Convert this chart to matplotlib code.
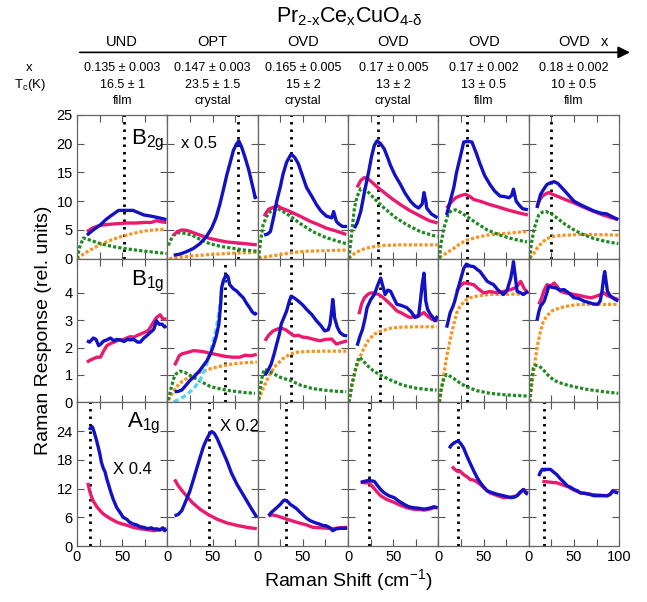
import numpy as np
import matplotlib
matplotlib.use("Agg")
import matplotlib.pyplot as plt
from matplotlib.patches import FancyArrowPatch

plt.rcParams['font.family'] = ['Liberation Sans', 'DejaVu Sans']
plt.rcParams['mathtext.fontset'] = 'custom'
plt.rcParams['mathtext.rm'] = 'Liberation Sans'
plt.rcParams['mathtext.it'] = 'Liberation Sans:italic'
plt.rcParams['mathtext.default'] = 'regular'

# header info, one entry per sample (column)
doping = ['UND', 'OPT', 'OVD', 'OVD', 'OVD', 'OVD']
x_vals = ['0.135 ± 0.003', '0.147 ± 0.003', '0.165 ± 0.005', '0.17 ± 0.005', '0.17 ± 0.002', '0.18 ± 0.002']
tc_vals = ['16.5 ± 1', '23.5 ± 1.5', '15 ± 2', '13 ± 2', '13 ± 0.5', '10 ± 0.5']
sample = ['film', 'crystal', 'crystal', 'crystal', 'film', 'film']

# dotted marker positions (cm-1) per row, None = no line
b2g_mark = [52, 78, 37, 33, 32, 25]
b1g_mark = [None, 64, 37, 35, 32, None]
a1g_mark = [14, 46, 31, 23, 22, 17]

# ---- B2g (top row) ----
b2g_blue = [
    [(11,4.1),(18,5.0),(26,5.9),(32,6.8),(37,7.4),(46,8.4),(55,8.4),(62,8.4),(68,8.0),(74,7.6),(82,7.4),(88,7.2),(99,6.8)],
    [(7,0.6),(14,0.8),(21,1.2),(29,1.8),(36,2.6),(43,3.8),(49,5.3),(54,7.2),(58,9.4),(62,12),(66,14.7),(70,17),(73,18.8),(76,19.8),(79,20.5),(82,19.5),(86,17.6),(90,15.5),(93,13.5),(96,11.5),(97,10.6),(99,10.8)],
    [(7,4.1),(11,4.3),(14,4.7),(18,7.5),(21,10),(25,12.5),(28,14.7),(32,16.8),(37,18.2),(41,17.6),(45,16.5),(50,14.2),(54,12.4),(60,10.8),(65,9.4),(70,8.3),(76,7.4),(80,7.2),(82,7.1),(84,8.2),(87,6.5),(90,6.0),(94,5.6),(99,5.6)],
    [(7,5.3),(10,6.2),(14,8.2),(18,11.5),(23,15.3),(26,17.8),(29,19.7),(32,20.5),(36,20.0),(40,19.1),(44,17.5),(47,16.2),(52,14.5),(58,12.9),(63,11.4),(69,10.0),(74,9.2),(78,8.8),(82,9.5),(84,11.5),(86,10.0),(87,8.8),(92,7.8),(99,7.1)],
    [(9,7.6),(13,10.0),(17,12.4),(20,15),(24,17.6),(28,20.3),(33,20.4),(37,20.3),(42,18.3),(46,16.5),(51,14.5),(57,12.9),(62,11.8),(68,10.9),(73,10.8),(78,10.6),(81,11.0),(83,12.1),(86,10.0),(90,9.2),(93,8.7),(99,8.5)],
    [(9,8.8),(13,11.2),(17,12.2),(20,12.9),(24,13.2),(28,13.4),(32,13.1),(35,12.6),(42,11.4),(50,10.0),(57,9.4),(65,8.8),(72,8.3),(80,7.9),(86,7.8),(91,7.4),(96,7.0),(99,6.8)],
]
b2g_pink = [
    [(11,4.7),(18,5.4),(26,5.8),(37,6.0),(46,6.1),(55,6.2),(65,6.2),(74,6.3),(82,6.3),(88,6.6),(94,6.4),(99,6.3)],
    [(7,4.1),(11,4.7),(16,5.0),(22,4.9),(29,4.5),(38,4.0),(47,3.5),(56,3.2),(66,2.9),(80,2.7),(99,2.4)],
    [(7,7.4),(12,8.6),(17,8.9),(22,9.2),(26,8.8),(33,8.4),(40,7.9),(48,7.3),(58,6.5),(66,6.0),(76,5.3),(87,4.8),(98,4.2)],
    [(10,12.4),(14,13.6),(18,14.1),(22,13.9),(25,13.5),(32,12.5),(40,11.5),(48,10.5),(58,9.4),(68,8.4),(80,7.4),(90,6.6),(99,6.2)],
    [(9,8.8),(14,9.8),(19,10.6),(25,11.0),(30,11.2),(35,10.8),(39,10.3),(46,10.0),(57,9.4),(66,9.0),(76,8.5),(88,8.0),(99,7.6)],
    [(9,9.1),(12,10.2),(15,10.9),(19,11.3),(22,11.5),(26,11.2),(31,10.9),(40,10.3),(50,9.7),(60,9.0),(72,8.2),(82,7.6),(92,7.1),(99,6.8)],
]
b2g_green = [
    [(0,0),(3,2),(7,3.6),(15,3.2),(26,2.6),(40,2.1),(55,1.7),(75,1.3),(99,0.9)],
    [(1,2.3),(6,4.0),(12,4.5),(16,4.5),(22,4.3),(27,4.1),(37,3.3),(47,2.6),(60,2.1),(73,1.8),(85,1.5),(99,1.3)],
    [(1,0),(3,3),(6,5.9),(10,7.4),(14,8.2),(21,8.8),(28,8.2),(36,7.4),(48,6.0),(61,4.7),(75,3.7),(87,3.1),(98,2.6)],
    [(1,0),(4,4.5),(7,8.8),(10,10.8),(14,12.2),(21,11.8),(30,10.3),(40,8.8),(52,7.2),(65,5.9),(80,4.7),(99,3.8)],
    [(1,0),(3,2.8),(6,5.3),(11,7.9),(15,8.4),(19,8.5),(25,8.0),(31,7.4),(42,6.2),(54,5.0),(68,4.1),(83,3.4),(98,2.9)],
    [(1,0),(3,2.8),(6,5.3),(11,7.6),(15,8.1),(19,8.2),(25,7.8),(31,7.1),(40,6.0),(50,5.0),(60,4.2),(72,3.5),(85,3.0),(99,2.6)],
]
b2g_orange = [
    [(0,0),(8,0.9),(18,1.8),(28,2.6),(37,3.2),(46,3.7),(55,4.1),(65,4.5),(74,4.8),(85,5.0),(96,5.1)],
    [(2,0),(10,0.2),(20,0.35),(29,0.5),(45,0.7),(66,0.9),(80,1.0),(99,1.1)],
    [(1,0.1),(10,0.35),(21,0.6),(30,0.85),(40,1.1),(55,1.3),(76,1.4),(98,1.5)],
    [(1,0),(7,0.9),(14,1.5),(21,1.85),(29,2.1),(40,2.3),(58,2.4),(99,2.4)],
    [(1,0.2),(9,1.0),(17,1.8),(24,2.6),(31,3.2),(42,3.7),(54,4.1),(65,4.3),(76,4.4),(88,4.6),(98,4.7)],
    [(1,0.1),(5,0.8),(9,1.8),(14,2.7),(20,3.5),(28,3.9),(36,4.05),(43,4.1),(56,4.2),(69,4.2),(85,4.15),(99,4.1)],
]

# ---- B1g (middle row) ----
b1g_blue = [
    [(11,2.25),(14,2.2),(18,2.35),(21,2.3),(24,2.07),(27,2.15),(29,2.23),(33,2.28),(37,2.35),(41,2.25),(44,2.3),(48,2.28),(52,2.22),(56,2.3),(59,2.28),(63,2.3),(67,2.2),(70,2.2),(74,2.35),(77,2.43),(81,2.55),(85,2.67),(88,2.98),(91,2.85),(94,2.86),(97,2.75),(99,2.8)],
    [(8,0.39),(12,0.4),(16,0.45),(20,0.6),(25,0.8),(30,0.95),(36,1.17),(40,1.35),(44,1.53),(48,1.8),(51,2.07),(54,2.4),(57,2.86),(59,3.6),(60,4.18),(62,4.45),(65,4.66),(67,4.6),(69,4.3),(73,4.15),(77,4.06),(80,3.95),(84,3.82),(88,3.6),(91,3.46),(94,3.3),(97,3.22),(99,3.28)],
    [(8,0.99),(12,1.2),(15,1.41),(18,1.75),(21,2.13),(24,2.5),(26,2.86),(29,3.1),(32,3.34),(35,3.7),(37,3.88),(41,3.8),(45,3.7),(50,3.55),(54,3.4),(60,3.2),(65,2.98),(70,2.8),(74,2.61),(78,2.65),(80,2.86),(82,3.4),(83,3.76),(84,3.5),(85,3.1),(88,2.75),(91,2.55),(95,2.45),(99,2.43)],
    [(10,2.07),(13,2.4),(16,2.67),(19,3.1),(21,3.46),(25,3.75),(29,3.94),(33,4.3),(36,4.54),(38,4.3),(41,3.94),(44,4.1),(47,4.06),(50,3.85),(54,3.58),(58,3.55),(62,3.5),(65,3.46),(70,3.3),(74,3.1),(78,3.15),(80,3.7),(82,4.3),(84,4.72),(86,3.7),(88,3.4),(91,3.22),(94,3.1),(96,2.98),(99,3.16)],
    [(9,2.73),(11,3.0),(13,3.28),(16,3.5),(18,3.7),(22,4.2),(26,4.66),(28,4.9),(31,5.05),(35,4.98),(39,4.96),(43,4.85),(46,4.78),(50,4.6),(54,4.42),(58,4.35),(61,4.3),(66,4.1),(72,3.94),(76,4.1),(80,4.54),(82,4.9),(83,5.14),(85,4.6),(87,4.06),(91,4.0),(94,3.94),(99,4.06)],
    [(9,2.98),(11,3.3),(13,3.52),(15,3.6),(17,3.7),(20,4.0),(22,4.24),(26,4.2),(30,4.18),(34,4.1),(39,4.12),(44,4.0),(50,3.82),(55,3.8),(61,3.7),(66,3.65),(71,3.6),(76,3.58),(79,3.7),(81,4.06),(83,4.6),(84,4.78),(86,4.3),(87,4.06),(90,3.9),(93,3.82),(96,3.75),(99,3.7)],
]
b1g_pink = [
    [(11,1.47),(15,1.55),(18,1.59),(22,1.65),(26,1.65),(29,1.85),(33,2.07),(37,2.15),(41,2.2),(44,2.25),(48,2.28),(52,2.3),(55,2.35),(59,2.4),(63,2.38),(67,2.45),(70,2.49),(74,2.55),(78,2.6),(81,2.73),(85,2.95),(88,3.1),(92,3.2),(95,3.05),(99,3.04)],
    [(8,1.35),(11,1.55),(13,1.7),(16,1.77),(22,1.82),(29,1.89),(35,1.87),(40,1.85),(46,1.8),(51,1.77),(58,1.72),(66,1.67),(73,1.65),(80,1.65),(86,1.72),(92,1.7),(99,1.75)],
    [(8,2.25),(12,2.45),(17,2.61),(22,2.68),(26,2.71),(31,2.65),(35,2.55),(40,2.43),(45,2.45),(50,2.38),(54,2.37),(60,2.32),(65,2.28),(69,2.25),(75,2.3),(82,2.31),(87,2.13),(92,2.18),(99,2.25)],
    [(12,3.22),(15,3.6),(18,3.82),(22,3.95),(25,4.0),(30,3.98),(34,3.94),(38,3.85),(43,3.7),(48,3.55),(54,3.34),(60,3.25),(65,3.15),(69,3.1),(75,3.15),(80,3.2),(84,3.28),(88,3.15),(92,3.05),(96,3.0),(99,2.98)],
    [(20,4.06),(24,4.25),(28,4.36),(32,4.35),(36,4.32),(39,4.3),(44,4.15),(50,4.0),(57,4.05),(65,4.0),(72,4.05),(80,4.12),(86,4.2),(91,4.42),(95,4.15),(99,4.0)],
    [(11,3.58),(14,3.8),(17,4.1),(20,4.3),(24,4.25),(28,4.36),(31,4.25),(35,4.06),(40,4.0),(45,3.98),(50,3.94),(57,3.9),(63,3.85),(69,3.82),(75,3.88),(80,3.95),(83,4.0),(87,3.9),(91,3.85),(95,3.8),(99,3.76)],
]
b1g_green = [
    None,
    [(1,0.08),(4,0.5),(7,0.87),(10,1.05),(14,1.14),(19,1.1),(25,0.99),(36,0.78),(48,0.57),(60,0.48),(70,0.42),(85,0.36),(97,0.33)],
    [(1,0.1),(4,0.8),(7,1.2),(10,1.18),(17,1.05),(26,0.9),(36,0.8),(48,0.62),(61,0.5),(75,0.44),(88,0.4),(98,0.39)],
    [(1,0),(4,0.6),(7,1.05),(10,1.45),(12,1.65),(16,1.55),(21,1.35),(28,1.15),(36,0.99),(48,0.8),(60,0.63),(75,0.52),(90,0.46),(98,0.45)],
    [(1,0),(3,0.5),(6,0.87),(9,1.02),(13,0.95),(17,0.87),(24,0.7),(31,0.57),(42,0.43),(57,0.33),(75,0.27),(98,0.23)],
    [(1,0),(3,0.8),(5,1.25),(7,1.35),(11,1.33),(15,1.23),(21,1.0),(28,0.8),(38,0.67),(50,0.57),(65,0.47),(80,0.4),(99,0.33)],
]
b1g_orange = [
    None,
    [(1,0.08),(5,0.3),(10,0.57),(17,0.78),(24,0.92),(29,0.99),(38,1.12),(48,1.23),(60,1.33),(73,1.41),(86,1.45),(99,1.47)],
    [(1,0.08),(6,0.5),(10,0.8),(14,1.05),(20,1.35),(28,1.6),(35,1.75),(43,1.83),(55,1.86),(76,1.87),(98,1.87)],
    [(1,0),(4,0.6),(8,1.17),(13,1.65),(18,2.01),(23,2.3),(29,2.49),(36,2.6),(47,2.71),(60,2.75),(75,2.76),(98,2.76)],
    [(1,0.02),(5,0.8),(9,1.65),(13,2.3),(17,2.86),(20,3.25),(24,3.52),(30,3.72),(35,3.82),(45,3.9),(57,3.94),(75,3.95),(98,3.96)],
    [(1,0),(4,0.8),(7,1.53),(10,2.15),(13,2.61),(16,2.95),(20,3.16),(26,3.35),(35,3.46),(45,3.53),(57,3.58),(75,3.58),(99,3.58)],
]
# extra fit in the OPT B1g panel
b1g_cyan_opt = [(7,0.02),(14,0.12),(21,0.27),(29,0.5),(36,0.8),(42,1.25),(48,1.89),(52,2.4),(55,2.86),(58,3.5),(60,4.06),(62,4.4),(64,4.6)]

# ---- A1g (bottom row) ----
a1g_blue = [
    [(13,24.7),(15,24.5),(17,24.9),(19,23.8),(22,21.8),(25,19.5),(27,17.5),(29,16.3),(31,15.5),(33,14),(37,11.5),(40,9.8),(44,8.0),(47,7.2),(51,6.0),(55,5.6),(58,5.0),(62,4.6),(66,4.4),(70,4.0),(74,3.9),(78,3.6),(82,3.8),(86,3.5),(88,3.6),(92,3.4),(95,3.8),(97,3.2),(99,3.6)],
    [(8,6.3),(12,6.6),(16,7.4),(20,9.2),(25,11.5),(30,14.6),(36,18.4),(40,20.8),(44,22.5),(47,23.5),(49,23.9),(52,23.5),(55,22.5),(60,20.3),(66,17.7),(71,15.2),(77,12.9),(82,11.3),(88,9.4),(93,7.8),(99,6.0)],
    [(12,6.3),(15,7.0),(18,7.5),(21,8.0),(25,8.7),(28,9.4),(30,9.6),(33,9.3),(36,8.7),(40,8.2),(43,7.8),(45,7.4),(50,6.5),(54,5.8),(58,5.3),(63,4.9),(68,4.6),(72,4.3),(76,4.2),(80,3.8),(83,3.2),(87,3.6),(92,3.7),(99,3.7)],
    [(14,13.3),(18,13.5),(23,13.7),(26,13.6),(29,13.5),(33,12.5),(36,11.8),(40,11.1),(45,10.5),(51,10.1),(56,9.4),(62,8.7),(67,8.2),(72,8.0),(78,7.9),(84,7.7),(90,7.9),(95,8.2),(99,8.0)],
    [(12,20.4),(14,21.0),(17,21.5),(20,21.8),(22,21.9),(25,21.3),(28,20.4),(31,19),(35,17.3),(39,15.7),(43,14.2),(48,12.8),(54,11.5),(60,11.1),(65,10.8),(72,10.5),(80,10.1),(84,10.2),(87,10.5),(90,11.2),(94,11.8),(97,11.0),(99,10.8)],
    [(11,14.6),(13,15.5),(15,16.0),(20,16.0),(24,16.0),(27,15.5),(31,14.9),(35,14.0),(39,13.3),(43,12.5),(46,12.3),(50,11.8),(54,11.5),(57,11.1),(62,11.0),(67,10.8),(72,10.5),(80,10.5),(87,10.5),(90,10.8),(93,11.5),(96,11.2),(99,11.1)],
]
a1g_pink = [
    [(12,13.2),(14,11.5),(16,10.3),(18,9.4),(22,8.2),(26,7.3),(29,6.7),(33,6.2),(37,5.7),(44,5.0),(50,4.6),(56,4.3),(62,3.9),(70,3.6),(78,3.4),(85,3.2),(90,3.3),(95,3.5),(99,3.6)],
    [(8,13.9),(12,12.6),(16,11.6),(21,10.5),(28,9.0),(36,7.7),(45,6.6),(55,5.6),(66,4.8),(77,4.3),(88,3.9),(99,3.6)],
    [(12,6.3),(16,6.5),(21,6.3),(26,6.0),(32,5.6),(39,5.2),(46,4.8),(54,4.4),(61,3.9),(70,3.8),(78,3.7),(83,3.6),(90,3.8),(99,3.9)],
    [(14,13.3),(18,13.2),(23,13.2),(28,12.2),(32,11.3),(36,10.5),(42,9.8),(47,9.4),(51,9.1),(58,8.5),(65,8.0),(72,7.7),(80,7.6),(84,7.5),(90,7.7),(95,8.0),(99,8.0)],
    [(15,16.6),(18,16.0),(21,15.6),(24,15.6),(28,14.9),(32,14.4),(35,13.9),(40,13.7),(46,12.9),(51,12.0),(57,11.1),(64,10.6),(72,10.1),(80,10.2),(87,10.5),(90,11.0),(94,11.8),(97,11.3),(99,11.1)],
    [(15,13.5),(20,13.4),(25,13.3),(31,13.2),(37,12.8),(43,12.4),(50,11.7),(57,11.1),(65,10.9),(72,10.7),(80,10.6),(87,10.5),(90,10.8),(93,11.6),(96,11.3),(99,11.2)],
]

BLUE = '#1212c4'
PINK = '#ea1a6e'
GREEN = '#1f8a22'
ORANGE = '#f7931e'
CYAN = '#5ad4f2'
dash = (0, (1.0, 0.65))

rows = [
    dict(blue=b2g_blue, pink=b2g_pink, green=b2g_green, orange=b2g_orange, mark=b2g_mark,
         ylim=(0, 25), yticks=[0, 5, 10, 15, 20, 25]),
    dict(blue=b1g_blue, pink=b1g_pink, green=b1g_green, orange=b1g_orange, mark=b1g_mark,
         ylim=(0, 5.25), yticks=[0, 1, 2, 3, 4]),
    dict(blue=a1g_blue, pink=a1g_pink, green=None, orange=None, mark=a1g_mark,
         ylim=(0, 30), yticks=[0, 6, 12, 18, 24]),
]

fig, axes = plt.subplots(3, 6, figsize=(6.47, 6.02), dpi=100)
fig.subplots_adjust(left=0.119, right=0.957, bottom=0.093, top=0.809, wspace=0, hspace=0)

def xy(pts):
    a = np.array(pts, dtype=float)
    return a[:, 0], a[:, 1]

for r, row in enumerate(rows):
    for c in range(6):
        ax = axes[r, c]
        if row['mark'][c] is not None:
            ax.axvline(row['mark'][c], color='black', lw=2.0, ls=(0, (0.9, 1.8)), zorder=1)
        if row['green'] is not None and row['green'][c] is not None:
            ax.plot(*xy(row['orange'][c]), color=ORANGE, lw=2.3, ls=dash, dash_capstyle='butt', zorder=2)
            ax.plot(*xy(row['green'][c]), color=GREEN, lw=2.3, ls=dash, dash_capstyle='butt', zorder=2)
        if r == 1 and c == 1:
            ax.plot(*xy(b1g_cyan_opt), color=CYAN, lw=2.4, ls=(0, (1.6, 0.9)), zorder=2)
        ax.plot(*xy(row['pink'][c]), color=PINK, lw=2.4, zorder=3, solid_capstyle='butt')
        ax.plot(*xy(row['blue'][c]), color=BLUE, lw=2.4, zorder=4, solid_capstyle='butt')

        ax.set_xlim(0, 100)
        ax.set_ylim(*row['ylim'])
        ax.set_xticks([0, 25, 50, 75, 100])
        ax.set_yticks(row['yticks'])
        if r == 2:
            ax.set_xticklabels(['0', '', '50', '', '100' if c == 5 else ''])
        else:
            ax.set_xticklabels([])
        if c != 0:
            ax.set_yticklabels([])
        ax.tick_params(direction='in', top=True, right=True, length=5, width=0.8,
                       color='#555555', labelsize=10.5, pad=3)
        for s in ax.spines.values():
            s.set_color('#666666')
            s.set_linewidth(0.9)

# panel annotations
axes[0, 0].text(60, 20.5, r'B$_{2g}$', fontsize=16, va='center')
axes[0, 1].text(15, 20.0, 'x 0.5', fontsize=12, va='center')
axes[1, 0].text(60, 4.4, r'B$_{1g}$', fontsize=16, va='center')
axes[2, 0].text(55, 25.5, r'A$_{1g}$', fontsize=16, va='center')
axes[2, 0].text(40, 16, 'X 0.4', fontsize=12, va='center')
axes[2, 1].text(58, 25, 'X 0.2', fontsize=12, va='center')

# header
left, right = 0.119, 0.957
colw = (right - left) / 6
fig.text(0.54, 0.972, 'Pr$_{2\u2010x}$Ce$_x$CuO$_{4\u2010\\delta}$', ha='center', va='center', fontsize=15.5)
arrow = FancyArrowPatch((left, 0.913), (0.978, 0.913), transform=fig.transFigure,
                        arrowstyle='-|>', color='black', lw=1.2, mutation_scale=18)
fig.add_artist(arrow)
fig.text(0.935, 0.93, 'x', ha='center', va='center', fontsize=10.5)
fig.text(0.045, 0.887, 'x', ha='center', va='center', fontsize=9.5)
fig.text(0.046, 0.859, r'T$_c$(K)', ha='center', va='center', fontsize=9.5)
for i in range(6):
    cx = left + (i + 0.5) * colw
    fig.text(cx, 0.930, doping[i], ha='center', va='center', fontsize=10.5)
    fig.text(cx, 0.887, x_vals[i], ha='center', va='center', fontsize=9)
    fig.text(cx, 0.859, tc_vals[i], ha='center', va='center', fontsize=9)
    fig.text(cx, 0.832, sample[i], ha='center', va='center', fontsize=9)

fig.text(0.068, 0.452, 'Raman Response (rel. units)', rotation=90, ha='center', va='center', fontsize=14)
fig.text(0.538, 0.036, r'Raman Shift (cm$^{-1}$)', ha='center', va='center', fontsize=14)

fig.savefig('out.png', dpi=100)
